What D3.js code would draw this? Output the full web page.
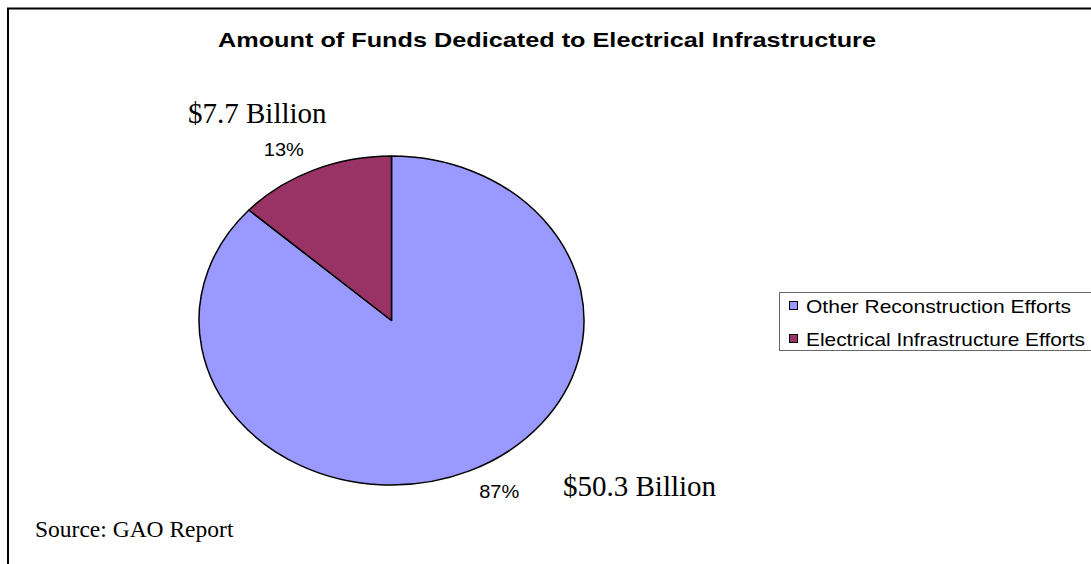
<!DOCTYPE html>
<html>
<head>
<meta charset="utf-8">
<script src="https://cdn.jsdelivr.net/npm/d3@7"></script>
<style>
  html, body { margin: 0; padding: 0; background: #fff; }
  svg { display: block; }
</style>
</head>
<body>
<svg id="chart" width="1091" height="564"></svg>
<script>
// Funding split (billions of dollars)
const categories = ["Other Reconstruction Efforts", "Electrical Infrastructure Efforts"];
const fundsBillions = [50.3, 7.7];
const percentLabels = ["87%", "13%"];
const amountLabels = ["$50.3 Billion", "$7.7 Billion"];
const colors = ["#9999FF", "#993366"];

const svg = d3.select("#chart");

// Outer chart frame (runs past the right and bottom edges)
svg.append("rect")
  .attr("x", 8).attr("y", 8.5)
  .attr("width", 1200).attr("height", 700)
  .attr("fill", "#fff")
  .attr("stroke", "#000").attr("stroke-width", 2);

// Title
svg.append("text")
  .attr("x", 547).attr("y", 47)
  .attr("text-anchor", "middle")
  .attr("font-family", "Liberation Sans, Arial, sans-serif")
  .attr("font-weight", "bold")
  .attr("font-size", 21)
  .attr("textLength", 658).attr("lengthAdjust", "spacingAndGlyphs")
  .text("Amount of Funds Dedicated to Electrical Infrastructure");

// Pie, drawn as a circle squashed vertically into an ellipse
const cx = 391.5, cy = 320.5, rx = 192.5, ry = 164.5;
const pie = d3.pie().sort(null).startAngle(0).endAngle(2 * Math.PI);
const arcs = pie(fundsBillions);
const arc = d3.arc().innerRadius(0).outerRadius(rx);

const pieG = svg.append("g")
  .attr("transform", `translate(${cx},${cy}) scale(1,${ry / rx})`);

pieG.selectAll("path")
  .data(arcs)
  .join("path")
  .attr("d", arc)
  .attr("fill", (d, i) => colors[i])
  .attr("stroke", "#000")
  .attr("stroke-width", 1.5)
  .attr("vector-effect", "non-scaling-stroke")
  .attr("stroke-linejoin", "round");

// Percentage labels just outside each slice
const labelR = 1.18, labelShift = -4.4 * Math.PI / 180;
svg.append("g").selectAll("text")
  .data(arcs)
  .join("text")
  .attr("x", d => {
    const a = (d.startAngle + d.endAngle) / 2 + labelShift;
    return cx + Math.sin(a) * rx * labelR;
  })
  .attr("y", d => {
    const a = (d.startAngle + d.endAngle) / 2 + labelShift;
    return cy - Math.cos(a) * ry * labelR + 6.5;
  })
  .attr("text-anchor", "middle")
  .attr("font-family", "Liberation Sans, Arial, sans-serif")
  .attr("font-size", 18.5)
  .attr("textLength", 40).attr("lengthAdjust", "spacingAndGlyphs")
  .text((d, i) => percentLabels[i]);

// Dollar amount annotations
const serif = "Liberation Serif, 'Times New Roman', serif";
svg.append("text")
  .attr("x", 188).attr("y", 123)
  .attr("font-family", serif).attr("font-size", 29)
  .text(amountLabels[1]);
svg.append("text")
  .attr("x", 563).attr("y", 496)
  .attr("font-family", serif).attr("font-size", 29)
  .text(amountLabels[0]);

// Source note
svg.append("text")
  .attr("x", 35).attr("y", 537)
  .attr("font-family", serif).attr("font-size", 23.5)
  .text("Source: GAO Report");

// Legend
const legend = svg.append("g");
legend.append("rect")
  .attr("x", 779.5).attr("y", 292.5)
  .attr("width", 400).attr("height", 58)
  .attr("fill", "#fff")
  .attr("stroke", "#666").attr("stroke-width", 1);

const legendY = d3.scalePoint().domain(categories).range([306, 339]);
const legendLen = [265, 279];
const item = legend.selectAll("g.item")
  .data(categories)
  .join("g")
  .attr("class", "item")
  .attr("transform", d => `translate(0,${legendY(d)})`);

item.append("rect")
  .attr("x", 789.5).attr("y", -4.5)
  .attr("width", 8).attr("height", 8)
  .attr("fill", (d, i) => colors[i])
  .attr("stroke", "#000").attr("stroke-width", 1);

item.append("text")
  .attr("x", 806).attr("y", 6.5)
  .attr("font-family", "Liberation Sans, Arial, sans-serif")
  .attr("font-size", 18.5)
  .attr("textLength", (d, i) => legendLen[i]).attr("lengthAdjust", "spacingAndGlyphs")
  .text(d => d);
</script>
</body>
</html>
